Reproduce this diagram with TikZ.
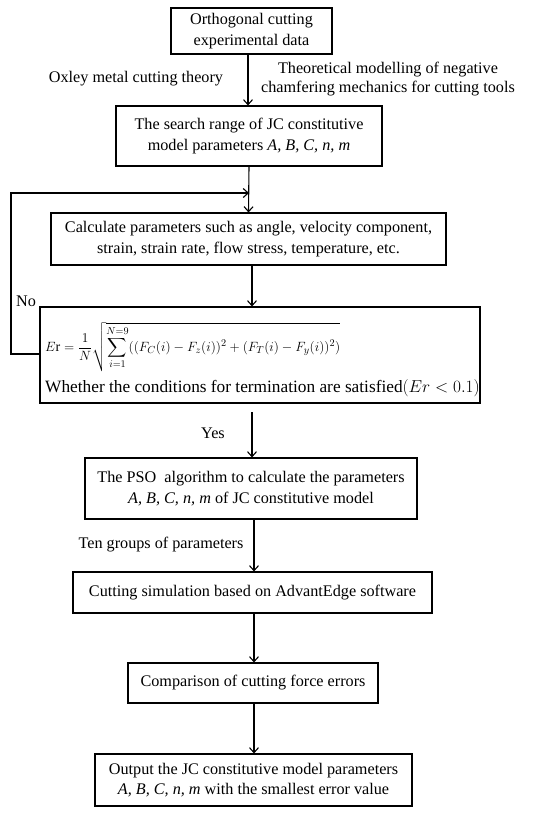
\documentclass[tikz,border=0pt]{standalone}
\usepackage{amsmath}
\usepackage{graphicx}
\usepackage{fontspec}
\setmainfont{Liberation Serif}
\usetikzlibrary{arrows.meta}
\begin{document}
\begin{tikzpicture}[x=1pt,y=-1pt,
  box/.style={draw, line width=1.1pt, align=center, inner sep=0pt, font=\fontsize{16.2}{20.5}\selectfont},
  arr/.style={line width=1.1pt, -{Straight Barb[length=5pt,width=9pt,line width=1.1pt]}},
  lbl/.style={align=center, inner sep=0pt, font=\fontsize{16.2}{18.5}\selectfont}]
\useasboundingbox (0,0) rectangle (550,815);
\node[box, minimum width=161pt, minimum height=46pt] (b1) at (251.5,31) {Orthogonal cutting\\experimental data};
\node[box, minimum width=266pt, minimum height=60pt] (b2) at (249,136) {The search range of JC constitutive\\model parameters \textit{A, B, C, n, m}};
\node[box, minimum width=395pt, minimum height=52pt] (b3) at (248.5,239) {Calculate parameters such as angle, velocity component,\\strain, strain rate, flow stress, temperature, etc.};
\node[box, minimum width=440pt, minimum height=96pt] (b4) at (260,355) {};
\node[anchor=west, inner sep=0pt, font=\fontsize{15}{18}\selectfont] (f1) at (45,347) {\resizebox{295pt}{!}{$E\mathrm{r}=\dfrac{1}{N}\sqrt{\displaystyle\sum_{i=1}^{N=9}((F_C(i)-F_z(i))^2+(F_T(i)-F_y(i))^2)}$}};
\node[anchor=west, inner sep=0pt, font=\fontsize{17.3}{20}\selectfont] (f2) at (45,388) {Whether the conditions for termination are satisfied$(Er<0.1)$};
\node[box, minimum width=332pt, minimum height=61pt] (b5) at (251,488.5) {The PSO\ \ algorithm to calculate the parameters\\\textit{A, B, C, n, m} of JC constitutive model};
\node[box, minimum width=359pt, minimum height=41pt] (b6) at (252.5,592.5) {Cutting simulation based on AdvantEdge software};
\node[box, minimum width=250pt, minimum height=40pt] (b7) at (253,683) {Comparison of cutting force errors};
\node[box, minimum width=317pt, minimum height=52pt] (b8) at (253.5,780) {Output the JC constitutive model parameters\\\textit{A, B, C, n, m} with the smallest error value};
\node[lbl] (l1) at (136,79) {Oxley metal cutting theory};
\node[lbl] (l2) at (388,79) {Theoretical modelling of negative\\chamfering mechanics for cutting tools};
\node[lbl] (no) at (26,301) {No};
\node[lbl] (yes) at (213,433) {Yes};
\node[lbl] (l3) at (161,545) {Ten groups of parameters};
\coordinate (m) at (249,193);
\draw[arr] (b1.south -| 248,0) -- (b2.north -| 248,0);
\draw[arr] (b2.south) -- (b3.north);
\draw[arr] (b4.west |- 0,354) -- (11,354) |- (m);
\draw[arr] (b3.south -| 252,0) -- (b4.north -| 252,0);
\draw[arr] (252,412) -- (b5.north -| 252,0);
\draw[arr] (b5.south -| 254,0) -- (b6.north -| 254,0);
\draw[arr] (b6.south -| 254,0) -- (b7.north -| 254,0);
\draw[arr] (b7.south -| 254,0) -- (b8.north -| 254,0);
\end{tikzpicture}
\end{document}
